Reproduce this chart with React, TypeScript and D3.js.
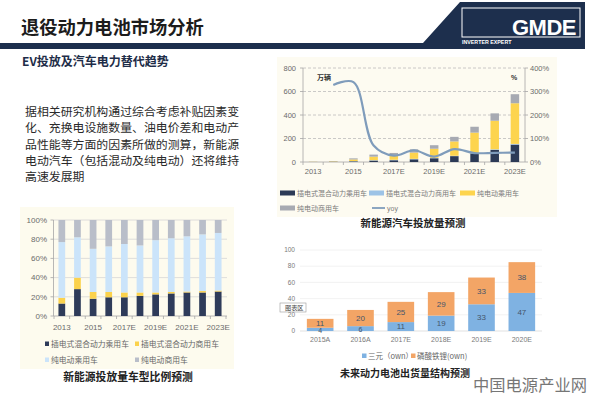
import * as d3 from "d3";

const CJK = '"Noto Sans CJK SC", "Noto Sans", sans-serif';
const NUM = '"Liberation Sans", Arial, sans-serif';

const years = ["2013", "2014", "2015", "2016", "2017E", "2018E", "2019E", "2020E", "2021E", "2022E", "2023E"];
const tickYears = ["2013", "2015", "2017E", "2019E", "2021E", "2023E"];

// 新能源汽车投放量预测 (万辆)
const phevCar = [0.3, 2, 5.6, 12, 15, 23, 32, 50, 73, 103, 148];
const phevBus = [0.1, 0.8, 2.2, 3.5, 4, 4, 3, 3, 3, 5, 6];
const evCar = [1.2, 3, 14, 30, 39, 53, 78, 122, 174, 243, 346];
const evBus = [0.4, 1.2, 9.2, 17.5, 19, 28, 30, 39, 50, 63, 77];
const yoy = [null, 328, 340, 70, 27, 50, 23, 55, 38, 39, 40];
const leftTicks = [0, 200, 400, 600, 800];
const rightTicks = [0, 100, 200, 300, 400];

// 新能源投放量车型比例预测 (%)
const sharePhevCar = [13, 28, 18, 19.5, 19.5, 21, 22.5, 23.5, 24.5, 24.5, 25.5];
const sharePhevBus = [6, 12, 7, 5.5, 5, 3.5, 2, 1.5, 1, 1.5, 1];
const shareEvCar = [58, 42, 45, 47.5, 50.5, 49, 54.5, 56, 57.5, 59, 60];
const shareEvBus = [23, 18, 30, 27.5, 25, 26.5, 21, 19, 17, 15, 13.5];
const shareTicks = [0, 20, 40, 60, 80, 100];

// 动力电池出货量 (GWh)
const batYears = ["2015A", "2016A", "2017E", "2018E", "2019E", "2020E"];
const ncm = [4, 6, 11, 19, 33, 47];
const lfp = [11, 20, 25, 29, 33, 38];
const batTicks = [0, 20, 40, 60, 80, 100];

const intro = [
  "据相关研究机构通过综合考虑补贴因素变",
  "化、充换电设施数量、油电价差和电动产",
  "品性能等方面的因素所做的测算，新能源",
  "电动汽车（包括混动及纯电动）还将维持",
  "高速发展期",
];

const keys = ["a", "b", "c", "d"];

function stackRows(cols: number[][], labels: string[]) {
  const rows = labels.map((name, i) => {
    const r: any = { name };
    keys.forEach((k, j) => (r[k] = cols[j][i]));
    return r;
  });
  return d3.stack().keys(keys)(rows);
}

function TopChart() {
  const x = d3.scaleBand().domain(years).range([303, 525]).paddingInner(0.58).paddingOuter(0.29);
  const y = d3.scaleLinear().domain([0, 800]).range([162, 68]);
  const y2 = d3.scaleLinear().domain([0, 400]).range([162, 68]);
  const colors = ["#2c3a56", "#9dc3e6", "#fdd44e", "#a7aab2"];
  const series = stackRows([phevCar, phevBus, evCar, evBus], years);
  const pts = years
    .map((yr, i) => [yr, yoy[i]] as [string, number | null])
    .filter((d) => d[1] != null) as [string, number][];
  const line = d3
    .line<[string, number]>()
    .x((d) => (x(d[0]) || 0) + x.bandwidth() / 2)
    .y((d) => y2(d[1]))
    .curve(d3.curveCatmullRom.alpha(0.5));
  const legend1 = [
    { c: colors[0], t: "插电式混合动力乘用车", x: 280 },
    { c: colors[1], t: "插电式混合动力商用车", x: 369 },
    { c: colors[2], t: "纯电动乘用车", x: 460 },
  ];
  return (
    <g>
      <rect x={277} y={57} width={280} height={160} fill="#fdfbf1" />
      {leftTicks.slice(1).map((t) => (
        <line key={t} x1={303} x2={525} y1={y(t)} y2={y(t)} stroke="#bdbdbd" strokeWidth={0.8} strokeDasharray="3,2" />
      ))}
      <line x1={303} x2={303} y1={68} y2={162} stroke="#a6a6a6" strokeWidth={0.8} />
      <line x1={525} x2={525} y1={68} y2={162} stroke="#a6a6a6" strokeWidth={0.8} />
      <line x1={303} x2={525} y1={162} y2={162} stroke="#a6a6a6" strokeWidth={0.8} />
      {leftTicks.map((t) => (
        <g key={t}>
          <line x1={300} x2={303} y1={y(t)} y2={y(t)} stroke="#a6a6a6" strokeWidth={0.8} />
          <text x={296} y={y(t) + 2.5} fontSize={7.5} fill="#6b6b6b" textAnchor="end" fontFamily={NUM}>{t}</text>
        </g>
      ))}
      {rightTicks.map((t) => (
        <g key={t}>
          <line x1={525} x2={528} y1={y2(t)} y2={y2(t)} stroke="#a6a6a6" strokeWidth={0.8} />
          <text x={530} y={y2(t) + 2.5} fontSize={7.5} fill="#6b6b6b" fontFamily={NUM}>{t}%</text>
        </g>
      ))}
      {years.map((yr) => (
        <line key={yr} x1={(x(yr) || 0) - x.step() * 0.29} x2={(x(yr) || 0) - x.step() * 0.29} y1={162} y2={165} stroke="#a6a6a6" strokeWidth={0.8} />
      ))}
      {tickYears.map((yr) => (
        <text key={yr} x={(x(yr) || 0) + x.bandwidth() / 2} y={174} fontSize={7.5} fill="#6b6b6b" textAnchor="middle" fontFamily={NUM}>{yr}</text>
      ))}
      <text x={317} y={80} fontSize={7} fill="#333" fontWeight="bold" fontFamily={CJK}>万辆</text>
      <text x={511} y={80} fontSize={7} fill="#333" fontWeight="bold" fontFamily={NUM}>%</text>
      {series.map((s, i) => (
        <g key={s.key} fill={colors[i]}>
          {s.map((d) => (
            <rect key={d.data.name} x={x(d.data.name)} y={y(d[1])} width={x.bandwidth()} height={Math.max(0, y(d[0]) - y(d[1]))} />
          ))}
        </g>
      ))}
      <path d={line(pts) || ""} fill="none" stroke="#7f9cbb" strokeWidth={2.2} />
      {legend1.map((l) => (
        <g key={l.t}>
          <rect x={l.x} y={190.5} width={15} height={5} fill={l.c} />
          <text x={l.x + 17} y={195.5} fontSize={7} fill="#7a7a7a" fontFamily={CJK}>{l.t}</text>
        </g>
      ))}
      <rect x={280} y={205.5} width={15} height={5} fill={colors[3]} />
      <text x={297} y={210.5} fontSize={7} fill="#7a7a7a" fontFamily={CJK}>纯电动商用车</text>
      <line x1={372} x2={385} y1={208} y2={208} stroke="#7f9cbb" strokeWidth={1.8} />
      <text x={387} y={210.5} fontSize={7} fill="#7a7a7a" fontFamily={NUM}>yoy</text>
      <text x={413} y={227} fontSize={10.5} fill="#222" fontWeight="bold" textAnchor="middle" fontFamily={CJK}>新能源汽车投放量预测</text>
    </g>
  );
}

function ShareChart() {
  const x = d3.scaleBand().domain(years).range([54, 226]).paddingInner(0.57).paddingOuter(0.285);
  const y = d3.scaleLinear().domain([0, 100]).range([316, 220]);
  const colors = ["#2e3b59", "#fbd24c", "#cbe4fa", "#b9bec9"];
  const series = stackRows([sharePhevCar, sharePhevBus, shareEvCar, shareEvBus], years);
  const legend = [
    { c: colors[0], t: "插电式混合动力乘用车", x: 45, y: 344 },
    { c: colors[1], t: "插电式混合动力商用车", x: 135, y: 344 },
    { c: colors[2], t: "纯电动乘用车", x: 45, y: 360 },
    { c: colors[3], t: "纯电动商用车", x: 135, y: 360 },
  ];
  return (
    <g>
      <rect x={20} y={207} width={214} height={162} fill="#fdfbee" />
      {shareTicks.map((t) => (
        <g key={t}>
          {t > 0 && <line x1={53.5} x2={227} y1={y(t)} y2={y(t)} stroke="#d6d6d6" strokeWidth={0.8} />}
          <line x1={50.5} x2={53.5} y1={y(t)} y2={y(t)} stroke="#a6a6a6" strokeWidth={0.8} />
          <text x={47} y={y(t) + 2.8} fontSize={8} fill="#6b6b6b" textAnchor="end" fontFamily={NUM}>{t}%</text>
        </g>
      ))}
      <line x1={53.5} x2={53.5} y1={220} y2={316} stroke="#a6a6a6" strokeWidth={0.8} />
      <line x1={53.5} x2={227} y1={316} y2={316} stroke="#a6a6a6" strokeWidth={0.8} />
      {years.concat(["end"]).map((yr, i) => {
        const bx = 54 + i * x.step();
        return <line key={yr} x1={bx} x2={bx} y1={316} y2={319} stroke="#a6a6a6" strokeWidth={0.8} />;
      })}
      {tickYears.map((yr) => (
        <text key={yr} x={(x(yr) || 0) + x.bandwidth() / 2} y={329.5} fontSize={8} fill="#6b6b6b" textAnchor="middle" fontFamily={NUM}>{yr}</text>
      ))}
      {series.map((s, i) => (
        <g key={s.key} fill={colors[i]}>
          {s.map((d) => (
            <rect key={d.data.name} x={x(d.data.name)} y={y(d[1])} width={x.bandwidth()} height={Math.max(0, y(d[0]) - y(d[1]))} />
          ))}
        </g>
      ))}
      {legend.map((l) => (
        <g key={l.t}>
          <rect x={l.x} y={l.y - 2.5} width={4} height={4.5} fill={l.c} />
          <text x={l.x + 6} y={l.y + 2.7} fontSize={7.8} fill="#666" fontFamily={CJK}>{l.t}</text>
        </g>
      ))}
      <text x={128} y={381} fontSize={10.8} fill="#222" fontWeight="bold" textAnchor="middle" fontFamily={CJK}>新能源投放量车型比例预测</text>
    </g>
  );
}

function BatteryChart() {
  const x = d3.scaleBand().domain(batYears).range([300, 542]).paddingInner(0.34).paddingOuter(0.17);
  const y = d3.scaleLinear().domain([0, 100]).range([331, 250]);
  const colors = ["#7fb2e2", "#f3a566"];
  const rows = batYears.map((name, i) => ({ name, a: ncm[i], b: lfp[i] }));
  const series = d3.stack<any>().keys(["a", "b"])(rows);
  return (
    <g>
      {batTicks.map((t) => (
        <g key={t}>
          {t > 0 && <line x1={300} x2={542} y1={y(t)} y2={y(t)} stroke="#efefef" strokeWidth={0.8} />}
          <text x={295} y={y(t) + 2.2} fontSize={6.5} fill="#7a7a7a" textAnchor="end" fontFamily={NUM}>{t}</text>
        </g>
      ))}
      <line x1={300} x2={542} y1={331} y2={331} stroke="#d9d9d9" strokeWidth={0.8} />
      {series.map((s, i) => (
        <g key={s.key}>
          {s.map((d) => {
            const top = y(d[1]);
            const bot = y(d[0]);
            const cx = (x(d.data.name) || 0) + x.bandwidth() / 2;
            const small = bot - top < 6;
            return (
              <g key={d.data.name}>
                <rect x={x(d.data.name)} y={top} width={x.bandwidth()} height={bot - top} fill={colors[i]} />
                <text x={cx} y={(top + bot) / 2 + (small ? 3.4 : 2.8)} fontSize={small ? 7 : 8} fill="#45556b" textAnchor="middle" fontFamily={NUM}>{d[1] - d[0]}</text>
              </g>
            );
          })}
        </g>
      ))}
      {batYears.map((yr) => (
        <text key={yr} x={(x(yr) || 0) + x.bandwidth() / 2} y={342} fontSize={7} fill="#7a7a7a" textAnchor="middle" fontFamily={NUM}>{yr}</text>
      ))}
      <rect x={280} y={303} width={26} height={9} fill="#fff" stroke="#9a9a9a" strokeWidth={0.6} />
      <text x={285} y={310} fontSize={6.2} fill="#444" fontFamily={CJK}>图表区</text>
      <rect x={362} y={353.5} width={4.5} height={4.5} fill={colors[0]} />
      <text x={368} y={358.5} fontSize={7.5} fill="#666" fontFamily={CJK}>三元（own）</text>
      <rect x={411} y={353.5} width={4.5} height={4.5} fill={colors[1]} />
      <text x={417} y={358.5} fontSize={7.5} fill="#666" fontFamily={CJK}>磷酸铁锂(own)</text>
      <text x={340} y={377} fontSize={10} fill="#222" fontWeight="bold" fontFamily={CJK}>未来动力电池出货量结构预测</text>
    </g>
  );
}

export default function App() {
  return (
    <svg width={594} height={395} style={{ position: "absolute", left: 0, top: 0, background: "#fff" }} fontFamily={CJK}>
      <rect width={594} height={395} fill="#fff" />
      {/* header */}
      <text x={21} y={34} fontSize={18.3} fontWeight="bold" fill="#1c1c1c">退役动力电池市场分析</text>
      <polygon points="0,43 423,43 460,2 585,2 585,49 0,49" fill="#1d2f4d" />
      <rect x={462} y={8} width={118} height={29} fill="none" stroke="#fff" strokeWidth={1} />
      <text x={576} y={35} fontSize={22} fontWeight="bold" fill="#fff" textAnchor="end" fontFamily={NUM} letterSpacing={-0.5}>GMDE</text>
      <text x={462} y={44} fontSize={5.3} fontWeight="bold" fill="#fff" fontFamily={NUM}>INVERTER EXPERT</text>
      <text x={22} y={66} fontSize={12} fontWeight="bold" fill="#1e2d48">EV投放及汽车电力替代趋势</text>
      {intro.map((line, i) => (
        <text key={i} x={25} y={116 + i * 16.3} fontSize={11.9} fill="#2a2a2a">{line}</text>
      ))}
      <TopChart />
      <ShareChart />
      <BatteryChart />
      <text x={473} y={391} fontSize={16.3} fill="#555" opacity={0.8}>中国电源产业网</text>
    </svg>
  );
}
